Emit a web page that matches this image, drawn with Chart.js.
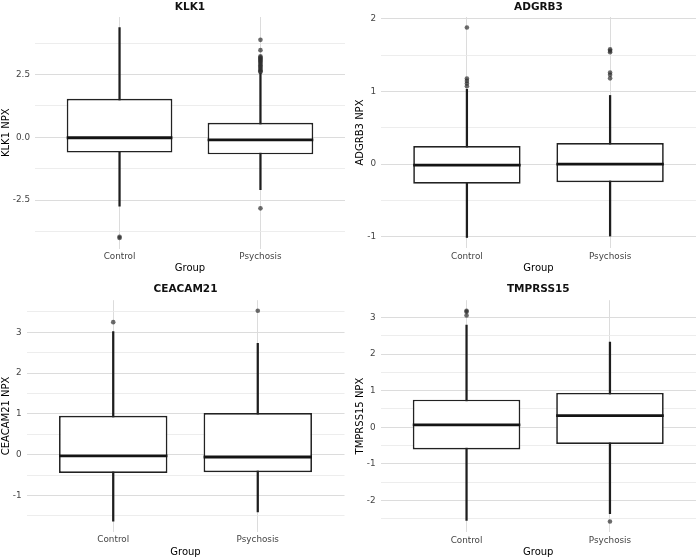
<!DOCTYPE html>
<html><head><meta charset="utf-8">
<script src="https://cdn.jsdelivr.net/npm/chart.js@4.4.1/dist/chart.umd.min.js"></script>
<style>
html,body{margin:0;padding:0;background:#fff;}
#wrap{position:relative;width:700px;height:558px;overflow:hidden;}
.p{position:absolute;width:350px;height:279px;}
</style></head><body>
<div id="wrap">
<div class="p" style="left:0;top:0"><canvas id="c1" width="350" height="279"></canvas></div>
<div class="p" style="left:350px;top:0"><canvas id="c2" width="350" height="279"></canvas></div>
<div class="p" style="left:0;top:279px"><canvas id="c3" width="350" height="279"></canvas></div>
<div class="p" style="left:350px;top:279px"><canvas id="c4" width="350" height="279"></canvas></div>
</div>
<script>
// ---- data ----
const groups = ['Control', 'Psychosis'];
const groupPos = [1, 2];

// KLK1
const klk1Lower  = [-2.74, -2.09];
const klk1Q1     = [-0.61, -0.68];
const klk1Median = [-0.02, -0.10];
const klk1Q3     = [1.53, 0.58];
const klk1Upper  = [4.37, 2.55];
const klk1OutControl   = [-3.96, -4.01];
const klk1OutPsychosis = [3.88, 3.47, 3.22, 3.18, 3.14, 3.10, 3.06, 3.02, 2.97, 2.92, 2.87, 2.82, 2.77, 2.72, 2.67, 2.63, 2.60, -2.83];
const klk1Ticks = [-2.5, 0, 2.5];

// ADGRB3
const adgrb3Lower  = [-1.01, -0.99];
const adgrb3Q1     = [-0.27, -0.25];
const adgrb3Median = [-0.014, 0.0];
const adgrb3Q3     = [0.25, 0.29];
const adgrb3Upper  = [1.03, 0.945];
const adgrb3OutControl   = [1.88, 1.178, 1.145, 1.109, 1.072];
const adgrb3OutPsychosis = [1.58, 1.56, 1.54, 1.26, 1.23, 1.18];
const adgrb3Ticks = [-1, 0, 1, 2];

// CEACAM21
const ceacam21Lower  = [-1.63, -1.40];
const ceacam21Q1     = [-0.45, -0.43];
const ceacam21Median = [-0.03, -0.056];
const ceacam21Q3     = [0.955, 1.02];
const ceacam21Upper  = [3.02, 2.73];
const ceacam21OutControl   = [3.25];
const ceacam21OutPsychosis = [3.53];
const ceacam21Ticks = [-1, 0, 1, 2, 3];

// TMPRSS15
const tmprss15Lower  = [-2.55, -2.37];
const tmprss15Q1     = [-0.61, -0.46];
const tmprss15Median = [0.063, 0.32];
const tmprss15Q3     = [0.756, 0.94];
const tmprss15Upper  = [2.80, 2.33];
const tmprss15OutControl   = [3.19, 3.16, 3.06];
const tmprss15OutPsychosis = [-2.58];
const tmprss15Ticks = [-2, -1, 0, 1, 2, 3];

// ---- style ----
const FONT = 'DejaVu Sans';
const BOX_W = 0.75;
const MAJOR_COL = '#dcdcdc', MINOR_COL = '#e9e9e9';

function makePanel(id, c) {
  const outs = [c.outC, c.outP];
  const all = [...c.lower, ...c.upper, ...c.outC, ...c.outP];
  const lo = Math.min(...all), hi = Math.max(...all);
  const pad = (hi - lo) * 0.05;
  const yMin = lo - pad, yMax = hi + pad;
  const step = c.ticks[1] - c.ticks[0];
  const minor = [c.ticks[0] - step / 2, ...c.ticks.map(t => t + step / 2)].filter(v => v >= yMin && v <= yMax);
  const yTicks = [...c.ticks, ...minor].sort((a, b) => a - b);
  const isMajor = v => c.ticks.some(t => Math.abs(t - v) < 1e-9);
  const outData = [];
  groupPos.forEach((x, i) => outs[i].forEach(v => outData.push({x, y: v})));

  new Chart(document.getElementById(id), {
    type: 'bar',
    data: {
      datasets: [
        { type: 'bar', data: groupPos.map((x, i) => ({x, y: [c.lower[i], c.upper[i]]})),
          backgroundColor: '#1e1e1e', borderWidth: 0, barThickness: 1.6, grouped: false, order: 4 },
        { type: 'bar', data: groupPos.map((x, i) => ({x, y: [c.q1[i], c.q3[i]]})),
          backgroundColor: '#ffffff', borderColor: '#222222', borderWidth: 1.7, borderSkipped: false,
          barPercentage: BOX_W, categoryPercentage: 1, grouped: false, order: 3 },
        { type: 'scatter', data: groupPos.map((x, i) => ({x, y: c.median[i]})),
          pointStyle: 'line', pointBorderColor: '#141414', pointBorderWidth: 2.8,
          pointRadius: ctx => { const s = ctx.chart.scales.x; return (s.getPixelForValue(1 + BOX_W / 2) - s.getPixelForValue(1 - BOX_W / 2)) / 2; },
          order: 2 },
        { type: 'scatter', data: outData, pointRadius: 2.3, pointBackgroundColor: 'rgba(45,45,45,0.7)',
          pointBorderWidth: 0, order: 1 }
      ]
    },
    options: {
      responsive: false, animation: false, devicePixelRatio: 1, events: [],
      layout: { padding: { left: 0, right: c.padR, top: 0, bottom: 0 } },
      plugins: {
        legend: { display: false }, tooltip: { enabled: false },
        title: { display: true, text: c.title, fullSize: false, color: '#111',
          font: { family: FONT, size: 10.5, weight: 'bold', lineHeight: 1.2 },
          padding: { top: c.titleTop, bottom: c.titleBottom } }
      },
      scales: {
        x: {
          type: 'linear', min: 0.4, max: 2.6, offset: false,
          afterBuildTicks: s => { s.ticks = groupPos.map(v => ({value: v})); },
          afterFit: s => { s.height = c.xH; },
          ticks: { autoSkip: false, padding: 3, color: '#444', font: { family: FONT, size: 8.8 },
            callback: v => { const i = groupPos.indexOf(v); return i >= 0 ? groups[i] : ''; } },
          grid: { drawTicks: false, offset: false, color: MAJOR_COL, lineWidth: 1 },
          border: { display: false },
          title: { display: true, text: 'Group', color: '#000', font: { family: FONT, size: 10 },
            padding: { top: 0, bottom: c.xTitleB } }
        },
        y: {
          type: 'linear', min: yMin, max: yMax,
          afterBuildTicks: s => { s.ticks = yTicks.map(v => ({value: v})); },
          afterFit: s => { s.width = c.yW; },
          ticks: { autoSkip: false, padding: 5, color: '#444', font: { family: FONT, size: 8.8 },
            callback: v => isMajor(v) ? v.toFixed(c.digits) : '' },
          grid: { drawTicks: false, offset: false,
            color: ctx => ctx.tick && isMajor(ctx.tick.value) ? MAJOR_COL : MINOR_COL,
            lineWidth: ctx => ctx.tick && isMajor(ctx.tick.value) ? 1.1 : 0.8 },
          border: { display: false },
          title: { display: true, text: c.yTitle, color: '#000', font: { family: FONT, size: 10 },
            padding: { top: c.yTitleP, bottom: 0 } }
        }
      }
    }
  });
}

makePanel('c1', { title: 'KLK1', yTitle: 'KLK1 NPX', lower: klk1Lower, q1: klk1Q1, median: klk1Median, q3: klk1Q3, upper: klk1Upper,
  outC: klk1OutControl, outP: klk1OutPsychosis, ticks: klk1Ticks, digits: 1,
  yW: 35, padR: 5, titleTop: 0.6, titleBottom: 3.8, xH: 30.5, xTitleB: 4.7, yTitleP: 0.3 });
makePanel('c2', { title: 'ADGRB3', yTitle: 'ADGRB3 NPX', lower: adgrb3Lower, q1: adgrb3Q1, median: adgrb3Median, q3: adgrb3Q3, upper: adgrb3Upper,
  outC: adgrb3OutControl, outP: adgrb3OutPsychosis, ticks: adgrb3Ticks, digits: 0,
  yW: 31, padR: 1.5, titleTop: 0.6, titleBottom: 3.8, xH: 31, xTitleB: 4.7, yTitleP: 4 });
makePanel('c3', { title: 'CEACAM21', yTitle: 'CEACAM21 NPX', lower: ceacam21Lower, q1: ceacam21Q1, median: ceacam21Median, q3: ceacam21Q3, upper: ceacam21Upper,
  outC: ceacam21OutControl, outP: ceacam21OutPsychosis, ticks: ceacam21Ticks, digits: 0,
  yW: 26.5, padR: 5.5, titleTop: 4, titleBottom: 4.6, xH: 26.3, xTitleB: 0, yTitleP: 0 });
makePanel('c4', { title: 'TMPRSS15', yTitle: 'TMPRSS15 NPX', lower: tmprss15Lower, q1: tmprss15Q1, median: tmprss15Median, q3: tmprss15Q3, upper: tmprss15Upper,
  outC: tmprss15OutControl, outP: tmprss15OutPsychosis, ticks: tmprss15Ticks, digits: 0,
  yW: 30.5, padR: 0.5, titleTop: 4, titleBottom: 4.6, xH: 26, xTitleB: 0, yTitleP: 4 });
</script>
</body></html>
